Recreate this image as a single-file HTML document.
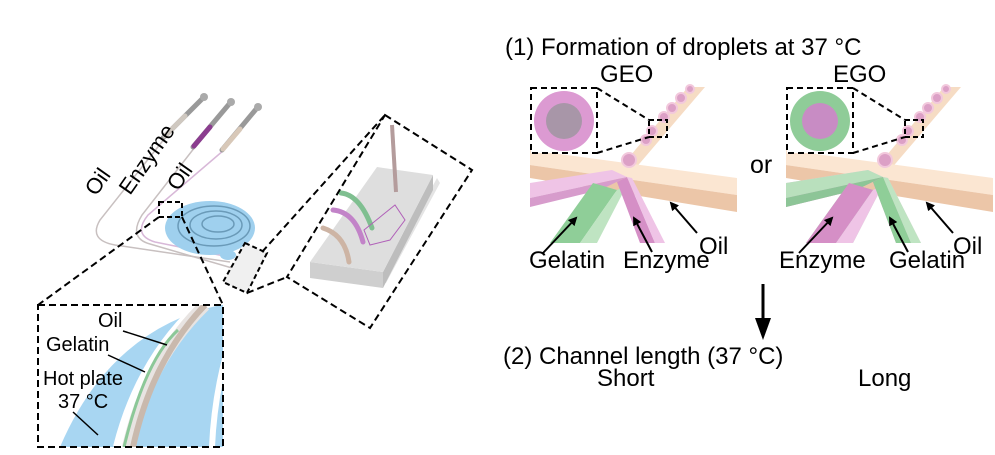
<!DOCTYPE html>
<html><head><meta charset="utf-8"><style>
html,body{margin:0;padding:0;background:#fff;}
svg{display:block;font-family:"Liberation Sans",Arial,sans-serif;}
</style></head><body>
<svg width="995" height="455" viewBox="0 0 995 455" xmlns="http://www.w3.org/2000/svg">
<defs>
<marker id="ah" markerWidth="9" markerHeight="9" refX="7" refY="4.5" orient="auto" markerUnits="userSpaceOnUse"><path d="M0,0 L9,4.5 L0,9 z" fill="#000"/></marker>
<g id="junc">
  <polygon points="620,168 634,170 705,87 688,87" fill="#f6dcc4"/>
  <polygon points="530,150 737,178 737,195 530,165" fill="#fbe6d2"/>
  <polygon points="530,165 737,195 737,212 530,178" fill="#ecc6a8"/>
  <polygon points="530,183 612,170 627,177 530,198" fill="#efc4e6"/>
  <polygon points="530,198 627,177 600,190 530,207" fill="#d79ccc"/>
  <polygon points="550,243 580,243 617,190 593,183" fill="#8fce98"/>
  <polygon points="580,243 597,243 627,185 617,190" fill="#bfe4c2"/>
  <polygon points="640,243 655,243 627,177 617,182" fill="#d58fc6"/>
  <polygon points="655,243 665,243 632,178 627,177" fill="#efc4e6"/>
  <g fill="#dca0c6" stroke="#f2c8dc" stroke-width="2">
    <circle cx="629" cy="160" r="7"/>
    <circle cx="646" cy="140" r="5"/>
    <circle cx="652" cy="131" r="5"/>
    <circle cx="664" cy="117" r="5"/>
    <circle cx="672" cy="108" r="5"/>
    <circle cx="681" cy="98" r="5"/>
    <circle cx="690" cy="89" r="4"/>
  </g>
  <rect x="649" y="120" width="18" height="17" fill="none" stroke="#000" stroke-width="2" stroke-dasharray="5,3"/>
  <line x1="597" y1="88" x2="649" y2="120" stroke="#000" stroke-width="2" stroke-dasharray="6,4"/>
  <line x1="597" y1="153" x2="649" y2="137" stroke="#000" stroke-width="2" stroke-dasharray="6,4"/>
  <rect x="531" y="88" width="66" height="65" fill="#fff" stroke="#000" stroke-width="2" stroke-dasharray="6,4"/>
</g>
</defs>

<!-- LEFT PANEL -->
<g fill="none" stroke="#c8c0c0" stroke-width="1.5">
  <path d="M165,138 L100,220 Q88,240 115,245 L230,262"/>
  <path d="M195,147 L142,215 Q128,238 150,244 L232,268"/>
  <path d="M224,150 L148,215 Q132,235 155,242 L234,258" stroke="#d8b8d8"/>
</g>
<g stroke-linecap="round">
  <line x1="163" y1="138" x2="203" y2="98" stroke="#999" stroke-width="5"/>
  <line x1="165" y1="136" x2="185" y2="116" stroke="#cfc8c0" stroke-width="5"/>
  <line x1="193" y1="147" x2="230" y2="103" stroke="#999" stroke-width="5"/>
  <line x1="194" y1="146" x2="210" y2="127" stroke="#8b3d8f" stroke-width="5"/>
  <line x1="222" y1="150" x2="257" y2="108" stroke="#999" stroke-width="5"/>
  <line x1="223" y1="149" x2="240" y2="129" stroke="#d8c8b8" stroke-width="5"/>
</g>
<g fill="#aaa"><circle cx="204" cy="97" r="4"/><circle cx="231" cy="102" r="4"/><circle cx="258" cy="107" r="4"/></g>
<g font-size="22" fill="#000">
  <text transform="translate(96,197) rotate(-55)">Oil</text>
  <text transform="translate(130,196) rotate(-55)">Enzyme</text>
  <text transform="translate(178,192) rotate(-55)">Oil</text>
</g>
<ellipse cx="210" cy="228" rx="45" ry="27" fill="#9fd0ee"/>
<g fill="none" stroke="#6a9ab8" stroke-width="1.5">
  <ellipse cx="214" cy="226" rx="36" ry="20"/>
  <ellipse cx="216" cy="225" rx="26" ry="14"/>
  <ellipse cx="218" cy="224" rx="16" ry="8"/>
</g>
<ellipse cx="228" cy="255" rx="8" ry="5" fill="#9fd0ee"/>
<rect x="159" y="202" width="23" height="15" fill="none" stroke="#000" stroke-width="2" stroke-dasharray="5,3"/>
<polygon points="245,243 267,253 247,293 223,282" fill="#f0f0f0" stroke="#000" stroke-width="2" stroke-dasharray="5,3"/>
<g stroke="#000" stroke-width="2" stroke-dasharray="7,4" fill="none">
  <line x1="159" y1="217" x2="38" y2="305"/>
  <line x1="182" y1="217" x2="223" y2="305"/>
  <line x1="262" y1="252" x2="385" y2="115"/>
  <line x1="247" y1="293" x2="287" y2="277"/>
</g>
<polygon points="310,268 383,278 437,178 440,183 386,283 312,274" fill="#e4e4e4"/>
<polygon points="310,262 383,272 383,288 310,278" fill="#cfcfcf"/>
<polygon points="383,272 433,175 433,190 383,288" fill="#bdbdbd"/>
<polygon points="377,167 433,175 383,272 310,262" fill="#dedede"/>
<line x1="392" y1="125" x2="396" y2="192" stroke="#b49c9c" stroke-width="4"/>
<g fill="none" stroke-width="5" stroke-linecap="round">
  <path d="M341,193 Q360,195 372,228" stroke="#7fbf90"/>
  <path d="M333,210 Q355,212 363,242" stroke="#c283c8"/>
  <path d="M323,228 Q345,235 349,262" stroke="#cdb4a4"/>
</g>
<path d="M364,230 L395,205 L405,220 L390,240 L370,245 z" fill="none" stroke="#b060b8" stroke-width="1"/>
<polygon points="385,115 472,170 370,328 287,277" fill="none" stroke="#000" stroke-width="2" stroke-dasharray="7,4"/>
<clipPath id="ic"><rect x="38" y="305" width="185" height="142"/></clipPath>
<g clip-path="url(#ic)">
  <rect x="38" y="305" width="185" height="142" fill="#fff"/>
  <path d="M60,447 Q110,330 220,305 L230,305 L230,447 z" fill="#a8d6f2"/>
  <path d="M118,447 Q140,360 200,305" fill="none" stroke="#fff" stroke-width="10"/>
  <path d="M128,447 Q148,360 205,305" fill="none" stroke="#e8e4e2" stroke-width="12"/>
  <path d="M124,447 Q145,360 178,330" fill="none" stroke="#8cc898" stroke-width="3"/>
  <path d="M133,447 Q152,360 205,305" fill="none" stroke="#c9b9ad" stroke-width="6"/>
  <path d="M212,447 Q214,400 226,355" fill="none" stroke="#fff" stroke-width="6"/>
</g>
<rect x="38" y="305" width="185" height="142" fill="none" stroke="#000" stroke-width="2" stroke-dasharray="7,4"/>
<g font-size="20" fill="#000">
  <text x="98" y="327">Oil</text>
  <text x="46" y="351">Gelatin</text>
  <text x="43" y="385">Hot plate</text>
  <text x="58" y="408">37 °C</text>
</g>
<g stroke="#000" stroke-width="1.5">
  <line x1="123" y1="331" x2="167" y2="345"/>
  <line x1="108" y1="355" x2="145" y2="372"/>
  <line x1="73" y1="412" x2="98" y2="435"/>
</g>

<!-- RIGHT PANEL -->
<text x="505" y="55" font-size="24">(1) Formation of droplets at 37 °C</text>
<text x="600" y="82" font-size="24">GEO</text>
<text x="833" y="82" font-size="24">EGO</text>
<use href="#junc"/>
<circle cx="564" cy="121" r="30" fill="#dc9ad2"/>
<circle cx="564" cy="121" r="18" fill="#a896a8"/>
<g transform="translate(256,0)">
  <use href="#junc"/>
</g>
<polygon points="786,183 868,170 883,177 786,198" fill="#b9e0bd"/>
<polygon points="786,198 883,177 856,190 786,207" fill="#8dc597"/>
<polygon points="806,243 836,243 873,190 849,183" fill="#d58fc6"/>
<polygon points="836,243 853,243 883,185 873,190" fill="#efc4e6"/>
<polygon points="896,243 911,243 883,177 873,182" fill="#8fce98"/>
<polygon points="911,243 921,243 888,178 883,177" fill="#bfe4c2"/>
<circle cx="820" cy="121" r="30" fill="#8fcc98"/>
<circle cx="820" cy="121" r="18" fill="#c88cc4"/>
<text x="750" y="173" font-size="25">or</text>
<g stroke="#000" stroke-width="2" marker-end="url(#ah)">
  <line x1="543" y1="253" x2="576" y2="218"/>
  <line x1="652" y1="252" x2="634" y2="218"/>
  <line x1="697" y1="233" x2="671" y2="203"/>
  <line x1="799" y1="253" x2="832" y2="218"/>
  <line x1="908" y1="252" x2="890" y2="218"/>
  <line x1="953" y1="233" x2="927" y2="203"/>
</g>
<g font-size="24">
  <text x="529" y="268">Gelatin</text>
  <text x="623" y="268">Enzyme</text>
  <text x="699" y="254">Oil</text>
  <text x="779" y="268">Enzyme</text>
  <text x="889" y="268">Gelatin</text>
  <text x="953" y="254">Oil</text>
</g>
<line x1="763" y1="284" x2="763" y2="322" stroke="#000" stroke-width="3"/>
<polygon points="755,318 771,318 763,340" fill="#000"/>
<text x="503" y="364" font-size="24">(2) Channel length (37 °C)</text>
<text x="597" y="386" font-size="24">Short</text>
<text x="858" y="386" font-size="24">Long</text>
</svg>
</body></html>
